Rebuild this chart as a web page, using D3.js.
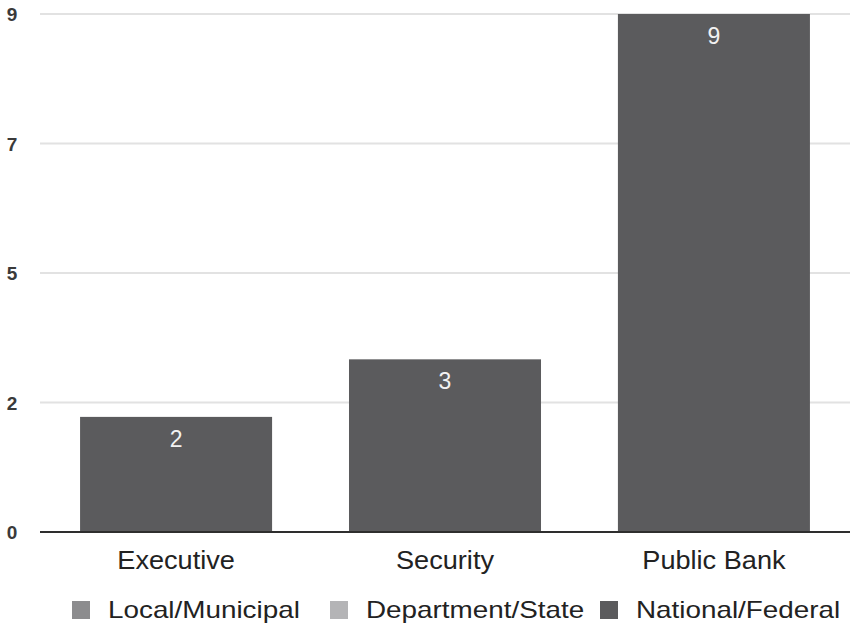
<!DOCTYPE html>
<html>
<head>
<meta charset="utf-8">
<script src="https://cdn.jsdelivr.net/npm/d3@7"></script>
<style>
  html, body { margin: 0; padding: 0; background: #fff; }
  svg { display: block; font-family: "Liberation Sans", Arial, Helvetica, sans-serif; }
</style>
</head>
<body>
<svg id="chart" width="850" height="635"></svg>
<script>
// Categories and series (stacked by government level)
const categories = ["Executive", "Security", "Public Bank"];
const seriesNames = ["Local/Municipal", "Department/State", "National/Federal"];
const localMunicipal = [0, 0, 0];
const departmentState = [0, 0, 0];
const nationalFederal = [2, 3, 9];
const seriesColors = ["#8c8c8e", "#b4b4b6", "#5b5b5d"];

// Value axis ticks and their printed labels
const yTickValues = [0, 2.25, 4.5, 6.75, 9];
const yTickLabels = ["0", "2", "5", "7", "9"];

const rows = categories.map((c, i) => ({
  category: c,
  "Local/Municipal": localMunicipal[i],
  "Department/State": departmentState[i],
  "National/Federal": nationalFederal[i]
}));

const svg = d3.select("#chart");
const margin = { top: 14, right: 0, bottom: 103, left: 40 };
const width = 850, height = 635;

const x = d3.scaleBand()
  .domain(categories)
  .range([margin.left, width - margin.right])
  .paddingInner(0.286)
  .paddingOuter(0.149);

const y = d3.scaleLinear()
  .domain([0, 9])
  .range([height - margin.bottom, margin.top]);

const color = d3.scaleOrdinal().domain(seriesNames).range(seriesColors);

// Horizontal gridlines
svg.append("g")
  .selectAll("line")
  .data(yTickValues.filter(v => v !== 0))
  .join("line")
  .attr("x1", margin.left)
  .attr("x2", width - margin.right)
  .attr("y1", d => y(d))
  .attr("y2", d => y(d))
  .attr("stroke", "#e2e2e2")
  .attr("stroke-width", 2);

// Y axis labels
const yAxis = d3.axisLeft(y)
  .tickValues(yTickValues)
  .tickFormat((d, i) => yTickLabels[i])
  .tickSize(0)
  .tickPadding(0);

const yg = svg.append("g")
  .attr("transform", `translate(${margin.left - 28},0)`)
  .call(yAxis);
yg.select(".domain").remove();
yg.selectAll("text")
  .attr("text-anchor", "middle")
  .attr("x", 0)
  .attr("dy", "0.36em")
  .attr("font-size", 19)
  .attr("font-weight", "bold")
  .attr("fill", "#3a3a3a");

// Stacked bars
const stacked = d3.stack().keys(seriesNames)(rows);

svg.append("g")
  .selectAll("g")
  .data(stacked)
  .join("g")
  .attr("fill", d => color(d.key))
  .selectAll("rect")
  .data(d => d)
  .join("rect")
  .attr("x", d => x(d.data.category))
  .attr("y", d => y(d[1]))
  .attr("width", x.bandwidth())
  .attr("height", d => y(d[0]) - y(d[1]));

// Value labels for the national series
svg.append("g")
  .selectAll("text")
  .data(stacked[2].filter(d => d[1] - d[0] > 0))
  .join("text")
  .attr("x", d => x(d.data.category) + x.bandwidth() / 2)
  .attr("y", d => y(d[1]) + 30)
  .attr("text-anchor", "middle")
  .attr("font-size", 23)
  .attr("fill", "#f2f2f2")
  .text(d => d.data["National/Federal"]);

// Baseline
svg.append("line")
  .attr("x1", margin.left)
  .attr("x2", width - margin.right)
  .attr("y1", y(0))
  .attr("y2", y(0))
  .attr("stroke", "#2e2e2e")
  .attr("stroke-width", 2);

// Category axis
const xAxis = d3.axisBottom(x).tickSize(0).tickPadding(0);
const xg = svg.append("g")
  .attr("transform", `translate(0,${y(0)})`)
  .call(xAxis);
xg.select(".domain").remove();
xg.selectAll(".tick")
  .attr("transform", d => `translate(${x(d) + x.bandwidth() / 2},37) scale(1.085,1)`);
xg.selectAll("text")
  .attr("y", 0)
  .attr("dy", 0)
  .attr("font-size", 25)
  .attr("fill", "#222")
  .attr("text-anchor", "middle");

// Legend
const legendItems = [
  { name: seriesNames[0], sx: 72, tx: 108 },
  { name: seriesNames[1], sx: 330, tx: 366 },
  { name: seriesNames[2], sx: 600, tx: 636 }
];
const lg = svg.append("g");
lg.selectAll("rect")
  .data(legendItems)
  .join("rect")
  .attr("x", d => d.sx)
  .attr("y", 601)
  .attr("width", 18)
  .attr("height", 18)
  .attr("fill", d => color(d.name));
lg.selectAll("text")
  .data(legendItems)
  .join("text")
  .attr("transform", d => `translate(${d.tx},618) scale(1.16,1)`)
  .attr("font-size", 24)
  .attr("fill", "#222")
  .text(d => d.name);
</script>
</body>
</html>
